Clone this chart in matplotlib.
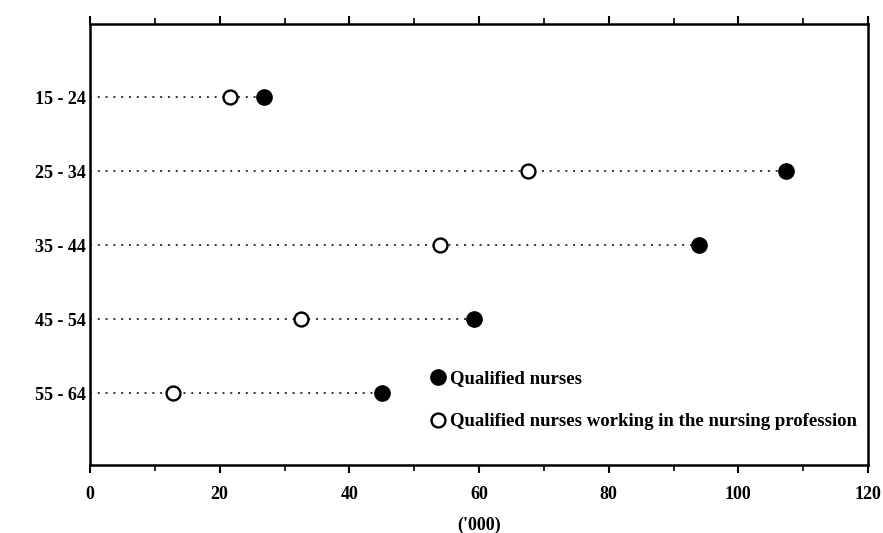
import numpy as np
import matplotlib
matplotlib.use("Agg")
import matplotlib.pyplot as plt
from matplotlib.lines import Line2D
from matplotlib.ticker import MultipleLocator

# ages and values ('000)
age_groups = ["15 - 24", "25 - 34", "35 - 44", "45 - 54", "55 - 64"]
qualified = [26.8, 107.4, 93.9, 59.2, 45.0]
working = [21.6, 67.6, 54.0, 32.5, 12.8]

plt.rcParams["font.family"] = ["Liberation Serif", "DejaVu Serif"]
plt.rcParams["font.weight"] = "bold"

fig = plt.figure(figsize=(8.83, 5.33), dpi=100)
ax = fig.add_axes([90 / 883, 1 - 465 / 533, 778 / 883, 441 / 533])

ypos = np.arange(len(age_groups))
for y, q in zip(ypos, qualified):
    ax.plot([0, q], [y, y], color="black", lw=1.1, ls=(0, (1.3, 3.8)), zorder=1)
ax.plot(qualified, ypos, "o", ms=11, mfc="black", mec="black", zorder=3)
ax.plot(working, ypos, "o", ms=10, mfc="white", mec="black", mew=1.7, zorder=3)

ax.set_xlim(0, 120)
ax.set_ylim(4.97, -0.99)
ax.set_yticks(ypos)
ax.set_yticklabels(age_groups, fontsize=13, fontweight="bold")
ax.xaxis.set_major_locator(MultipleLocator(20))
ax.xaxis.set_minor_locator(MultipleLocator(10))
ax.tick_params(axis="x", which="major", direction="out", length=6, width=1.5,
               labelsize=13, top=True, pad=9)
ax.tick_params(axis="x", which="minor", direction="out", length=4, width=1.2,
               top=True)
ax.tick_params(axis="y", length=0, pad=3)
for lab in ax.get_xticklabels():
    lab.set_fontweight("bold")
ax.set_xlabel("('000)", fontsize=13, fontweight="bold", labelpad=10)
for sp in ax.spines.values():
    sp.set_linewidth(1.8)

handles = [Line2D([], [], marker="o", ls="none", ms=11, mfc="black", mec="black",
                  label="Qualified nurses"),
           Line2D([], [], marker="o", ls="none", ms=10, mfc="white", mec="black",
                  mew=1.7, label="Qualified nurses working in the nursing profession")]
leg = ax.legend(handles=handles, loc="lower right", bbox_to_anchor=(1.008, 0.04),
                frameon=False, handletextpad=0.15, labelspacing=1.4,
                handlelength=1.0, prop={"weight": "bold", "size": 13.5})

fig.savefig("out.png", dpi=100, facecolor="white")
